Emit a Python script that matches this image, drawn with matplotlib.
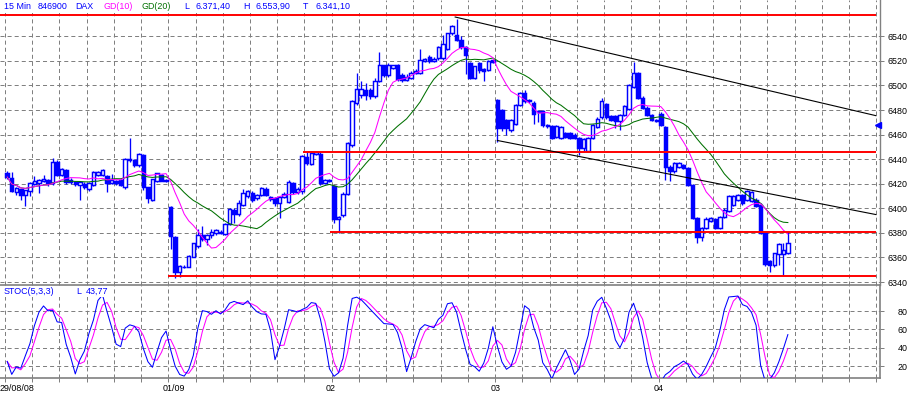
import numpy as np
import pandas as pd
import matplotlib
matplotlib.use("Agg")
import matplotlib.pyplot as plt
from matplotlib.patches import Rectangle

plt.rcParams['font.family'] = ['Liberation Sans', 'DejaVu Sans']
plt.rcParams['lines.scale_dashes'] = False

# ---------------- data (15-min DAX candles, 36 per day) ----------------
day_labels = ["29/08/08", "01/09", "02", "03", "04"]

opens = [
    6428.5, 6425, 6413.5, 6415.5, 6410.5, 6414, 6420, 6420.5, 6422, 6423, 6420.5, 6437.5, 6427.5, 6431.5, 6423, 6421.5, 6419, 6420,
    6415.5, 6419, 6427.5, 6427, 6426, 6420.5, 6422.5, 6423, 6417.5, 6439, 6439.5, 6435, 6443, 6417, 6407, 6422, 6427.5, 6422,
    6401, 6377, 6348, 6352.5, 6352.5, 6360.5, 6369.5, 6378, 6375, 6378, 6379.5, 6381, 6379, 6387.5, 6399, 6395, 6403, 6410,
    6412.5, 6408, 6411, 6416, 6409.5, 6408.5, 6404, 6409, 6405, 6420.5, 6413, 6414, 6442, 6436, 6444.5, 6444.5, 6420.5, 6423,
    6418, 6391, 6394.5, 6412, 6451.5, 6485.5, 6492, 6496, 6496, 6491, 6504, 6516.5, 6508.5, 6514, 6516.5, 6508.5, 6504.5, 6506,
    6510, 6510, 6519.5, 6523.5, 6519.5, 6522, 6522, 6530, 6542.5, 6541, 6537, 6531.5, 6518, 6506, 6518, 6513, 6512.5, 6520.5,
    6488, 6480, 6472, 6464, 6469, 6484, 6494, 6488, 6486, 6479, 6479, 6468, 6467, 6458, 6457, 6461, 6461, 6460,
    6457, 6449, 6447, 6457, 6466, 6474, 6485, 6475, 6475, 6471, 6476, 6481, 6499, 6510, 6490, 6482, 6476, 6472,
    6477, 6466, 6434, 6430, 6434, 6435, 6433, 6419, 6392, 6377, 6384, 6390, 6391, 6384, 6393, 6398, 6403, 6407,
    6411, 6407, 6406, 6407, 6403, 6380, 6357, 6354, 6363, 6363, 6364,
]
highs = [
    6430, 6429.5, 6417, 6416, 6415, 6421, 6426, 6424, 6427, 6424, 6441, 6439, 6433, 6432, 6425, 6422, 6422, 6421,
    6421, 6430, 6430, 6432, 6427, 6428, 6423, 6424, 6441, 6457.5, 6440, 6445, 6444.5, 6417.5, 6424, 6429, 6428, 6424,
    6402, 6377.5, 6354, 6353.5, 6362, 6372, 6383, 6385.5, 6379, 6383, 6383, 6382, 6388, 6400, 6400, 6407, 6416, 6415,
    6414, 6412, 6417, 6417, 6410, 6409, 6410, 6413, 6423, 6421, 6417, 6443.5, 6446, 6447, 6446.5, 6445.5, 6424, 6423.5,
    6419, 6394, 6413, 6454, 6488, 6510, 6504, 6502, 6498, 6506, 6527, 6517, 6518, 6517, 6517.5, 6510, 6509, 6512,
    6513, 6530, 6522, 6525, 6523, 6532, 6541, 6543, 6549, 6554, 6540, 6532, 6519, 6516, 6519, 6514, 6521, 6521,
    6489, 6481, 6473, 6473, 6485, 6495, 6496, 6489, 6487, 6480, 6480, 6469, 6468, 6468, 6467, 6462, 6462, 6461,
    6458, 6457, 6458, 6469, 6474, 6490, 6486, 6476, 6476, 6477, 6484, 6501, 6519, 6511, 6491, 6483, 6477, 6473,
    6478, 6467, 6435, 6438, 6438, 6436, 6434, 6420, 6393, 6385, 6393, 6393, 6392, 6394, 6400, 6411, 6411, 6412,
    6412, 6415, 6414, 6408, 6404, 6381, 6358, 6364, 6372, 6372, 6381,
]
lows = [
    6424, 6413, 6411, 6406.5, 6402, 6410, 6419, 6412.5, 6421, 6418, 6419, 6426, 6426, 6420, 6420, 6418, 6406.5, 6416,
    6414, 6418, 6426, 6426, 6413, 6420, 6419, 6418, 6416, 6438, 6434, 6434, 6415, 6404, 6406, 6421, 6422, 6421,
    6366.5, 6343.5, 6344, 6351, 6352, 6360, 6368, 6373, 6370, 6376, 6378, 6379, 6378, 6386, 6388, 6394, 6402, 6408,
    6405, 6407, 6410, 6410, 6406, 6402, 6392, 6408, 6404, 6412, 6412, 6412, 6435, 6435, 6443.5, 6419, 6419.5, 6421,
    6388, 6380, 6393, 6411, 6450, 6484, 6490, 6488, 6489, 6490, 6503, 6507, 6507, 6513, 6504, 6503, 6504, 6505,
    6509, 6509, 6519, 6518, 6519, 6521, 6521, 6529, 6541, 6536, 6530, 6509, 6505, 6505, 6510, 6504, 6512, 6518,
    6454, 6463, 6460, 6462, 6468, 6483, 6486, 6486, 6469, 6470, 6466, 6465, 6456, 6457, 6456, 6457, 6456, 6456,
    6443, 6447, 6446, 6456, 6465, 6473, 6473, 6471, 6465, 6464, 6475, 6480, 6498, 6489, 6481, 6475, 6471, 6470,
    6467, 6423, 6422.5, 6429, 6433, 6432, 6418, 6391, 6371.5, 6373, 6383, 6389, 6383, 6383, 6392, 6397, 6402, 6406,
    6403, 6406, 6405, 6401, 6379, 6353, 6348, 6352, 6354, 6346, 6363,
]
closes = [
    6425.5, 6414, 6416.5, 6410.5, 6414.5, 6420.5, 6422, 6423, 6423.5, 6420.5, 6437.5, 6427.5, 6432, 6421.5, 6421.5, 6419.5, 6421, 6417,
    6420.5, 6429.5, 6429.5, 6431.5, 6420.5, 6423, 6420.5, 6419, 6440, 6440.5, 6435, 6444, 6417, 6408, 6423.5, 6428.5, 6422.5, 6423,
    6377.5, 6348, 6353, 6352, 6361.5, 6371.5, 6378.5, 6375, 6378.5, 6381, 6382, 6380, 6387.5, 6399.5, 6395, 6404, 6412.5, 6414,
    6406.5, 6411, 6416.5, 6411, 6407.5, 6404, 6409, 6412, 6421, 6413, 6415.5, 6442.5, 6436.5, 6445, 6445.5, 6420.5, 6423, 6422,
    6391, 6393, 6412, 6453, 6487, 6497, 6497, 6492, 6491, 6504, 6516.5, 6508.5, 6516.5, 6516.5, 6505, 6504.5, 6507, 6510.5,
    6512, 6520.5, 6521.5, 6519.5, 6521.5, 6531, 6534, 6542.5, 6548, 6537, 6531.5, 6525, 6506, 6515.5, 6512.5, 6512, 6520, 6519,
    6465, 6465, 6465, 6472, 6484, 6494, 6487, 6487, 6477, 6478, 6468, 6467, 6457, 6467, 6466, 6458, 6457, 6457,
    6449, 6456, 6457, 6468, 6473, 6487, 6474, 6472, 6471, 6476, 6483, 6500, 6510, 6490, 6482, 6476, 6472, 6471,
    6468, 6434, 6430, 6437, 6437, 6433, 6419, 6392, 6377, 6384, 6391, 6392, 6384, 6393, 6399, 6410, 6410, 6411,
    6404, 6414, 6413, 6402, 6380, 6355, 6354, 6363.5, 6371, 6366, 6371.4,
]
assert len(opens) == len(highs) == len(lows) == len(closes)

# support lines (price level, first bar) and trend lines (bar, price)
red_levels = [6557.3, 6445.5, 6380.5, 6344.5]
red_start_bars = [-1.6, 65.2, 71.1, 35.4]
trend_upper = [(98.7, 6555.7), (191.4, 6475.4)]
trend_lower = [(108.0, 6455.2), (191.4, 6394.9)]
marker_price = 6467.6

header_items = [("15 Min", "#0000ff"), ("846900", "#0000ff"), ("DAX", "#0000ff"),
                ("GD(10)", "#ff00ff"), ("GD(20)", "#007000"),
                ("L", "#0000ff"), ("6.371,40", "#0000ff"), ("H", "#0000ff"),
                ("6.553,90", "#0000ff"), ("T", "#0000ff"), ("6.341,10", "#0000ff")]
stoch_label = "STOC(5,3,3)"
stoch_last = "43,77"

# ---------------- indicators ----------------
c = pd.Series(closes, dtype=float)
h = pd.Series(highs, dtype=float)
l = pd.Series(lows, dtype=float)
gd10 = c.rolling(10, min_periods=1).mean()
gd20 = c.rolling(20, min_periods=1).mean()
hh = h.rolling(5, min_periods=1).max()
ll = l.rolling(5, min_periods=1).min()
num = (c - ll).rolling(3, min_periods=1).sum()
den = (hh - ll).rolling(3, min_periods=1).sum()
stk = 100 * num / den
std = stk.rolling(3, min_periods=1).mean()

# ---------------- figure ----------------
W, H = 911, 397
fig = plt.figure(figsize=(W / 100, H / 100), dpi=100)
fig.patch.set_facecolor("white")

ax = fig.add_axes([0, 1 - 285 / H, 880 / W, 285 / H])
ax2 = fig.add_axes([0, 1 - 378 / H, 880 / W, 93 / H])

n = len(closes)
x = np.arange(n)
XL = (-1.586, 192.3)
GRID = "#808080"
DASH = (0, (2.9, 2.2))
BLUE = "#0000ff"

for a in (ax, ax2):
    a.set_xlim(*XL)
    a.set_facecolor("white")
    a.set_xticks(np.arange(-0.5, 193, 6))
    a.set_xticklabels([])
    a.grid(True, color=GRID, linestyle=DASH, linewidth=0.72)
    a.set_axisbelow(True)
    a.yaxis.tick_right()
    a.spines["left"].set_visible(False)

ax.set_ylim(6337.56, 6569.55)
ax.set_yticks(np.arange(6340, 6541, 20))
ax.tick_params(axis="y", direction="out", length=2.9, width=0.72, colors=GRID,
               labelcolor="black", labelsize=6.4, pad=2.7)
ax.tick_params(axis="x", length=0)
ax.spines["top"].set_visible(False)
ax.spines["bottom"].set_visible(False)
ax.spines["right"].set_color(GRID)
ax.spines["right"].set_linewidth(1.0)

ax2.set_ylim(6.9, 108.5)
ax2.set_yticks([20, 40, 60, 80])
ax2.tick_params(axis="y", direction="out", length=2.9, width=0.72, colors=GRID,
                labelcolor="black", labelsize=6.4, pad=9.9)
ax2.tick_params(axis="x", direction="out", length=3.2, width=0.72, colors=GRID)
for s in ("top", "bottom", "right"):
    ax2.spines[s].set_color(GRID)
    ax2.spines[s].set_linewidth(1.2)

# candles
o = np.array(opens); cl = np.array(closes)
lo = np.minimum(np.array(lows), np.minimum(o, cl))
hi = np.maximum(np.array(highs), np.maximum(o, cl))
up = cl >= o
bottom = np.minimum(o, cl)
height = np.maximum(np.abs(cl - o), 0.4)
ax.vlines(x, lo, hi, color=BLUE, linewidth=0.95, zorder=3)
ax.bar(x, height, bottom=bottom, width=0.76,
       color=np.where(up, "white", BLUE), edgecolor=BLUE, linewidth=1.05, zorder=4)

# moving averages
ax.plot(x, gd20, color="#007000", linewidth=0.75, zorder=5)
ax.plot(x, gd10, color="#ff00ff", linewidth=0.75, zorder=5)

# support / trend lines
for lev, st in zip(red_levels, red_start_bars):
    ax.hlines(lev, st, 191.4, color="#ff0000", linewidth=1.4, zorder=6, clip_on=False)
for tl in (trend_upper, trend_lower):
    ax.plot([tl[0][0], tl[1][0]], [tl[0][1], tl[1][1]], color="black", linewidth=0.8, zorder=6)
ax.plot([191.85], [marker_price], marker="<", color=BLUE, markersize=4, clip_on=False, zorder=7)

# stochastic
ax2.plot(x, std, color="#ff00ff", linewidth=0.75, zorder=4)
ax2.plot(x, stk, color=BLUE, linewidth=0.75, zorder=5)

# header
fig.add_artist(Rectangle((0, 1 - 13 / H), 372 / W, 13 / H, transform=fig.transFigure,
                         facecolor="white", edgecolor="none", zorder=1.5))
header_x = [4, 38, 75, 103, 142, 184, 195, 243, 255, 303, 315]
for (txt, col), px in zip(header_items, header_x):
    fig.text(px / W, 1 - 6.8 / H, txt, color=col, fontsize=6.4, va="center", ha="left", zorder=3)

fig.add_artist(Rectangle((0, 1 - 297 / H), 112 / W, 11 / H, transform=fig.transFigure,
                         facecolor="white", edgecolor="none", zorder=1.5))
fig.text(4 / W, 1 - 291 / H, stoch_label, color=BLUE, fontsize=6.4, va="center", ha="left", zorder=3)
fig.text(76 / W, 1 - 291 / H, "L", color=BLUE, fontsize=6.4, va="center", ha="left", zorder=3)
fig.text(86 / W, 1 - 291 / H, stoch_last, color=BLUE, fontsize=6.4, va="center", ha="left", zorder=3)

# date labels
date_px = [0, 174, 331, 496, 659]
for lab, px in zip(day_labels, date_px):
    fig.text(px / W, 1 - 388.5 / H, lab, color="black", fontsize=6.4, va="center",
             ha="left" if px == 0 else "center")

fig.savefig("out.png", dpi=100, facecolor="white")
